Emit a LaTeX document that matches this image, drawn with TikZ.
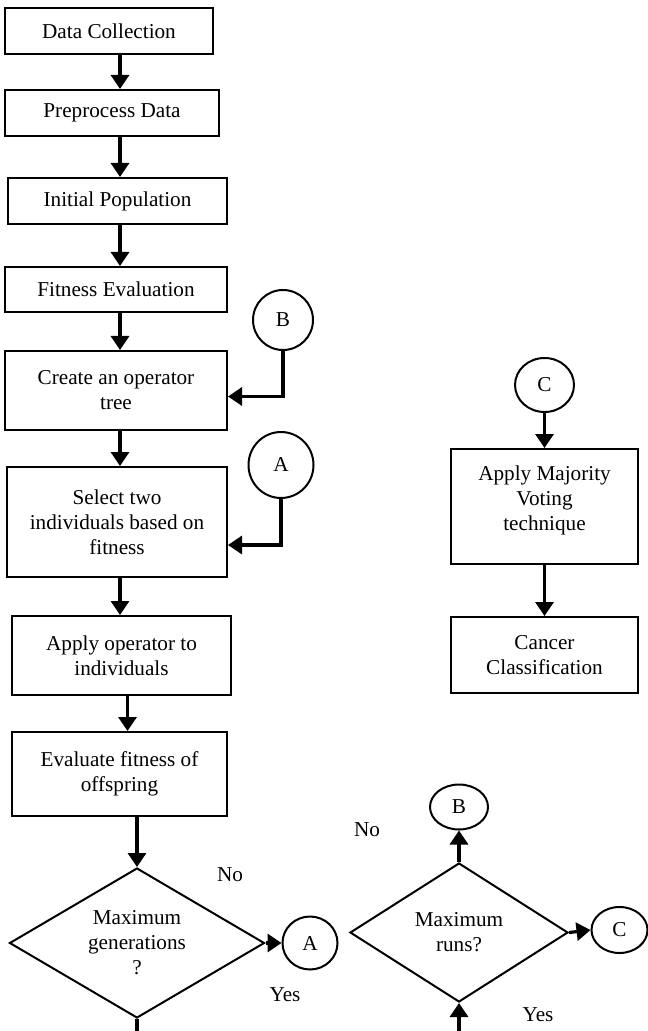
\documentclass[tikz,border=0pt]{standalone}
\usepackage{fontspec}
\setmainfont{Liberation Serif}
\usetikzlibrary{shapes.geometric,arrows.meta,positioning,calc}

\begin{document}
\begin{tikzpicture}[
    x=0.5pt, y=-0.5pt,
    font=\fontsize{10.6}{12.5}\selectfont,
    box/.style={rectangle, draw, line width=1pt, align=center, inner sep=2pt},
    decision/.style={diamond, draw, line width=1pt, align=center, inner sep=0pt},
    connector/.style={ellipse, draw, line width=1pt, inner sep=0pt},
    arrow/.style={-{Triangle[length=7pt,width=9pt]}, line width=1.6pt},
    line/.style={line width=1.6pt}
]
\useasboundingbox (0,0) rectangle (647,1031);

% Main column
\node[box, minimum width=104pt, minimum height=23pt] (collect) at (109,31) {Data Collection};
\node[box, minimum width=107pt, minimum height=23pt] (preproc) at (112,113) {Preprocess Data};
\node[box, minimum width=109.5pt, minimum height=23pt] (initpop) at (117.5,201) {Initial Population};
\node[box, minimum width=111pt, minimum height=22.5pt] (fiteval) at (116,289.5) {Fitness Evaluation};
\node[box, minimum width=111pt, minimum height=39.5pt] (optree) at (116,390.5) {Create an operator\\tree};
\node[box, minimum width=110pt, minimum height=55pt] (select) at (117,522) {Select two\\individuals based on\\fitness};
\node[box, minimum width=109.5pt, minimum height=39.5pt] (applyop) at (121.5,655.5) {Apply operator to\\individuals};
\node[box, minimum width=107.5pt, minimum height=42pt] (evaloff) at (119.5,774) {Evaluate fitness of\\offspring};

% Decisions
\node[decision, shape aspect=1.7, minimum width=127.5pt, minimum height=75pt] (maxgen) at (137,943) {Maximum\\generations\\?};
\node[decision, shape aspect=1.57, minimum width=109pt, minimum height=69.5pt] (maxruns) at (459,932.5) {Maximum\\runs?};

% Connectors
\node[connector, minimum width=30pt, minimum height=30pt] (conB1) at (283,320) {B};
\node[connector, minimum width=32.5pt, minimum height=33pt] (conA1) at (281,465) {A};
\node[connector, minimum width=27.5pt, minimum height=26.5pt] (conA2) at (310,943) {A};
\node[connector, minimum width=29pt, minimum height=22.5pt] (conB2) at (459,807) {B};
\node[connector, minimum width=28pt, minimum height=23pt] (conC2) at (619.5,930) {C};
\node[connector, minimum width=29.5pt, minimum height=27pt] (conC1) at (544.5,385) {C};

% Right column
\node[box, minimum width=93.5pt, minimum height=57.5pt] (voting) at (544.5,506.5) {Apply Majority\\Voting\\technique\\[-4pt]\mbox{}};
\node[box, minimum width=93.5pt, minimum height=38pt] (classify) at (544.5,655) {Cancer\\Classification};

% Labels
\node (no1) at (230,875) {No};
\node (yes1) at (285,995) {Yes};
\node (no2) at (367,830) {No};
\node (yes2) at (538,1015) {Yes};

% Free ends
\coordinate (spine) at (120,0);
\coordinate (genout) at (137,1031);
\coordinate (runsin) at (459,1031);

% Arrows
\draw[arrow] (collect.south -| spine) -- (preproc.north -| spine);
\draw[arrow] (preproc.south -| spine) -- (initpop.north -| spine);
\draw[arrow] (initpop.south -| spine) -- (fiteval.north -| spine);
\draw[arrow] (fiteval.south -| spine) -- (optree.north -| spine);
\draw[arrow] (optree.south -| spine) -- (select.north -| spine);
\draw[arrow] (select.south -| spine) -- (applyop.north -| spine);
\draw[arrow] ([xshift=3pt]applyop.south) -- ([xshift=3pt]applyop.south |- evaloff.north);
\draw[arrow] (evaloff.south -| maxgen.north) -- (maxgen.north);
\draw[arrow] (conB1.south) |- ([yshift=-3pt]optree.east);
\draw[arrow] (conA1.south) |- ([yshift=-11.5pt]select.east);
\draw[arrow] (maxgen.east) -- (conA2.west);
\draw[line] (maxgen.south) -- (genout);
\draw[arrow] (runsin) -- (maxruns.south);
\draw[arrow] (maxruns.north) -- (conB2.south);
\draw[arrow] (maxruns.east) -- (conC2.west);
\draw[arrow] (conC1.south) -- (voting.north);
\draw[arrow] (voting.south) -- (classify.north);

\end{tikzpicture}
\end{document}
